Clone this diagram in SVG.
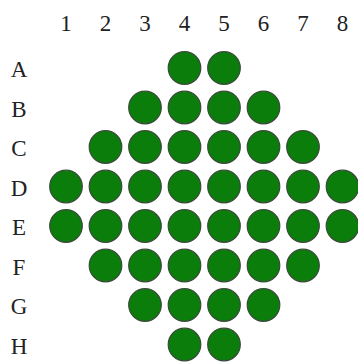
<svg xmlns="http://www.w3.org/2000/svg" width="358" height="363" viewBox="0 0 358 363">
<style>
.l{font-family:"Liberation Serif","DejaVu Serif",serif;font-size:23px;fill:#222;text-anchor:middle}
.p{fill:#0b7d0b;stroke:#3a4a3a;stroke-width:1.2}
</style>
<rect width="358" height="363" fill="#fff"/>
<g id="col-labels">
<text class="l" x="66" y="31">1</text>
<text class="l" x="105.5" y="31">2</text>
<text class="l" x="145" y="31">3</text>
<text class="l" x="184.5" y="31">4</text>
<text class="l" x="224" y="31">5</text>
<text class="l" x="263.5" y="31">6</text>
<text class="l" x="303" y="31">7</text>
<text class="l" x="342.5" y="31">8</text>
</g>
<g id="row-labels">
<text class="l" x="19" y="77">A</text>
<text class="l" x="19" y="116.5">B</text>
<text class="l" x="19" y="156">C</text>
<text class="l" x="19" y="195.5">D</text>
<text class="l" x="19" y="235">E</text>
<text class="l" x="19" y="274.5">F</text>
<text class="l" x="19" y="314">G</text>
<text class="l" x="19" y="353.5">H</text>
</g>
<g id="pegs">
<circle class="p" cx="184.5" cy="68" r="16.3"/><circle class="p" cx="224" cy="68" r="16.3"/>
<circle class="p" cx="145" cy="107.5" r="16.3"/><circle class="p" cx="184.5" cy="107.5" r="16.3"/><circle class="p" cx="224" cy="107.5" r="16.3"/><circle class="p" cx="263.5" cy="107.5" r="16.3"/>
<circle class="p" cx="105.5" cy="147" r="16.3"/><circle class="p" cx="145" cy="147" r="16.3"/><circle class="p" cx="184.5" cy="147" r="16.3"/><circle class="p" cx="224" cy="147" r="16.3"/><circle class="p" cx="263.5" cy="147" r="16.3"/><circle class="p" cx="303" cy="147" r="16.3"/>
<circle class="p" cx="66" cy="186.5" r="16.3"/><circle class="p" cx="105.5" cy="186.5" r="16.3"/><circle class="p" cx="145" cy="186.5" r="16.3"/><circle class="p" cx="184.5" cy="186.5" r="16.3"/><circle class="p" cx="224" cy="186.5" r="16.3"/><circle class="p" cx="263.5" cy="186.5" r="16.3"/><circle class="p" cx="303" cy="186.5" r="16.3"/><circle class="p" cx="342.5" cy="186.5" r="16.3"/>
<circle class="p" cx="66" cy="226" r="16.3"/><circle class="p" cx="105.5" cy="226" r="16.3"/><circle class="p" cx="145" cy="226" r="16.3"/><circle class="p" cx="184.5" cy="226" r="16.3"/><circle class="p" cx="224" cy="226" r="16.3"/><circle class="p" cx="263.5" cy="226" r="16.3"/><circle class="p" cx="303" cy="226" r="16.3"/><circle class="p" cx="342.5" cy="226" r="16.3"/>
<circle class="p" cx="105.5" cy="265.5" r="16.3"/><circle class="p" cx="145" cy="265.5" r="16.3"/><circle class="p" cx="184.5" cy="265.5" r="16.3"/><circle class="p" cx="224" cy="265.5" r="16.3"/><circle class="p" cx="263.5" cy="265.5" r="16.3"/><circle class="p" cx="303" cy="265.5" r="16.3"/>
<circle class="p" cx="145" cy="305" r="16.3"/><circle class="p" cx="184.5" cy="305" r="16.3"/><circle class="p" cx="224" cy="305" r="16.3"/><circle class="p" cx="263.5" cy="305" r="16.3"/>
<circle class="p" cx="184.5" cy="344.5" r="16.3"/><circle class="p" cx="224" cy="344.5" r="16.3"/>
</g>
</svg>
